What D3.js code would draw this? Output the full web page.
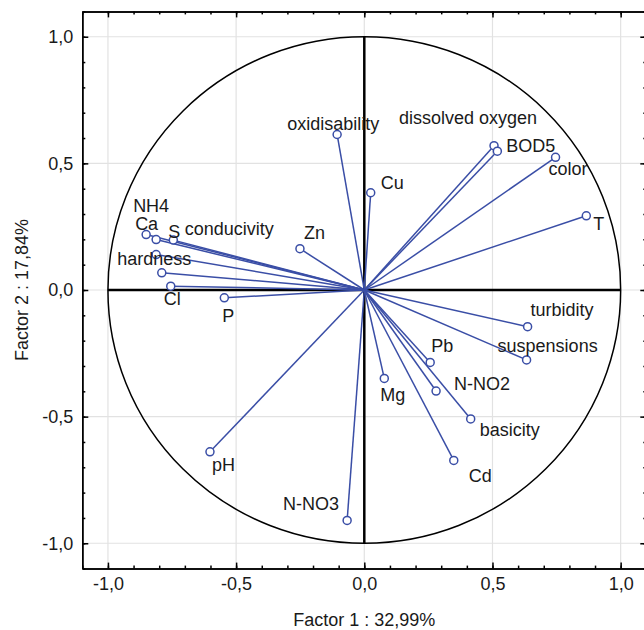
<!DOCTYPE html>
<html>
<head>
<meta charset="utf-8">
<script src="https://cdn.jsdelivr.net/npm/d3@7"></script>
<style>
  body { margin: 0; background: #fff; }
  svg text { font-family: "Liberation Sans", Arial, sans-serif; fill: #1a1a1a; }
</style>
</head>
<body>
<div id="chart"></div>
<script>
// variable names and their loadings on factor 1 / factor 2
var variables = ["oxidisability", "dissolved oxygen", "BOD5", "color", "T", "Cu", "Zn",
                 "NH4", "Ca", "S", "conducivity", "hardness", "Cl", "P",
                 "turbidity", "suspensions", "Pb", "N-NO2", "Mg", "basicity", "Cd", "pH", "N-NO3"];
var factor1 = [-0.106, 0.506, 0.519, 0.746, 0.866, 0.025, -0.251,
               -0.851, -0.812, -0.745, -0.790, -0.812, -0.755, -0.546,
               0.637, 0.633, 0.257, 0.280, 0.078, 0.415, 0.349, -0.602, -0.067];
var factor2 = [0.614, 0.570, 0.548, 0.524, 0.293, 0.384, 0.163,
               0.219, 0.199, 0.197, 0.068, 0.140, 0.015, -0.031,
               -0.145, -0.276, -0.286, -0.399, -0.349, -0.509, -0.673, -0.639, -0.910];
var majorTicks = [-1.0, -0.5, 0.0, 0.5, 1.0];
var xTitle = "Factor 1 : 32,99%";
var yTitle = "Factor 2 : 17,84%";

// label placement (pixel nudges from the point, text start / baseline)
var labelNudge = [[-50,-4],[-95,-22],[9,1],[-7,18],[7,14],[10,-4],[4,-10],
                  [-13,-23],[-21,-10],[-5,-2],[23,-38],[-39,10],[-7,19],[-2,24],
                  [3,-11],[-29,-8],[1,-10],[18,-1],[-4,23],[9,17],[15,22],[2,19],[-64,-10]];

var width = 644, height = 630;
var plotLeft = 82.3, plotRight = 646.3, plotTop = 11.4, plotBottom = 568.6;
var blue = "#3a4ea6";

var loc = d3.formatLocale({decimal: ",", thousands: ".", grouping: [3], currency: ["", ""], minus: "-"});
var fmt = loc.format(".1f");

var x = d3.scaleLinear().domain([-1.1, 1.1]).range([plotLeft, plotRight]);
var y = d3.scaleLinear().domain([-1.1, 1.1]).range([plotBottom, plotTop]);
var minorTicks = d3.range(-11, 12).map(function(d){ return d / 10; });

var svg = d3.select("#chart").append("svg")
    .attr("width", width).attr("height", height);

// grid
svg.append("g").selectAll("line.gx").data(majorTicks).enter().append("line")
    .attr("x1", function(d){ return x(d); }).attr("x2", function(d){ return x(d); })
    .attr("y1", plotTop).attr("y2", plotBottom)
    .style("stroke", "#e2e2e2").style("stroke-width", 1.2);
svg.append("g").selectAll("line.gy").data(majorTicks).enter().append("line")
    .attr("y1", function(d){ return y(d); }).attr("y2", function(d){ return y(d); })
    .attr("x1", plotLeft).attr("x2", plotRight)
    .style("stroke", "#e2e2e2").style("stroke-width", 1.2);

// unit circle
svg.append("ellipse")
    .attr("cx", x(0)).attr("cy", y(0))
    .attr("rx", x(1) - x(0)).attr("ry", y(0) - y(1))
    .style("fill", "none").style("stroke", "#000").style("stroke-width", 1.5);

// axis lines through origin
svg.append("line").attr("x1", x(-1)).attr("x2", x(1)).attr("y1", y(0)).attr("y2", y(0))
    .style("stroke", "#000").style("stroke-width", 2.5);
svg.append("line").attr("x1", x(0)).attr("x2", x(0)).attr("y1", y(1)).attr("y2", y(-1))
    .style("stroke", "#000").style("stroke-width", 2.5);

// vectors
var data = variables.map(function(name, i){
    return {name: name, f1: factor1[i], f2: factor2[i], nudge: labelNudge[i]};
});

svg.append("g").selectAll("line").data(data).enter().append("line")
    .attr("x1", x(0)).attr("y1", y(0))
    .attr("x2", function(d){ return x(d.f1); })
    .attr("y2", function(d){ return y(d.f2); })
    .style("stroke", blue).style("stroke-width", 1.5);

svg.append("g").selectAll("circle").data(data).enter().append("circle")
    .attr("cx", function(d){ return x(d.f1); })
    .attr("cy", function(d){ return y(d.f2); })
    .attr("r", 4)
    .style("fill", "#fff").style("stroke", blue).style("stroke-width", 1.5);

svg.append("g").selectAll("text").data(data).enter().append("text")
    .attr("x", function(d){ return x(d.f1) + d.nudge[0]; })
    .attr("y", function(d){ return y(d.f2) + d.nudge[1]; })
    .style("font-size", "18px")
    .text(function(d){ return d.name; });

// frame axes, ticks pointing inward
function styleAxis(g){
    g.select(".domain").style("stroke", "#000").style("stroke-width", 1.5);
    g.selectAll(".tick line").style("stroke", "#000").style("stroke-width", 1.5);
    g.selectAll("text").style("font-size", "18px").style("font-family", "Liberation Sans, Arial, sans-serif").attr("fill", "#1a1a1a");
}

svg.append("g").attr("transform", "translate(0," + plotBottom + ")")
    .call(d3.axisBottom(x).tickValues(minorTicks).tickSize(-3).tickFormat("").tickSizeOuter(0))
    .call(styleAxis);
svg.append("g").attr("transform", "translate(0," + plotBottom + ")")
    .call(d3.axisBottom(x).tickValues(majorTicks).tickSize(-6).tickPadding(9).tickFormat(fmt).tickSizeOuter(0))
    .call(styleAxis);
svg.append("g").attr("transform", "translate(0," + plotTop + ")")
    .call(d3.axisTop(x).tickValues(minorTicks).tickSize(-3).tickFormat("").tickSizeOuter(0))
    .call(styleAxis);
svg.append("g").attr("transform", "translate(0," + plotTop + ")")
    .call(d3.axisTop(x).tickValues(majorTicks).tickSize(-6).tickFormat("").tickSizeOuter(0))
    .call(styleAxis);
svg.append("g").attr("transform", "translate(" + plotLeft + ",0)")
    .call(d3.axisLeft(y).tickValues(minorTicks).tickSize(-3).tickFormat("").tickSizeOuter(0))
    .call(styleAxis);
svg.append("g").attr("transform", "translate(" + plotLeft + ",0)")
    .call(d3.axisLeft(y).tickValues(majorTicks).tickSize(-6).tickPadding(9).tickFormat(fmt).tickSizeOuter(0))
    .call(styleAxis);
svg.append("g").attr("transform", "translate(" + plotRight + ",0)")
    .call(d3.axisRight(y).tickValues(minorTicks).tickSize(-3).tickFormat("").tickSizeOuter(0))
    .call(styleAxis);
svg.append("g").attr("transform", "translate(" + plotRight + ",0)")
    .call(d3.axisRight(y).tickValues(majorTicks).tickSize(-6).tickFormat("").tickSizeOuter(0))
    .call(styleAxis);

// axis titles
svg.append("text")
    .attr("x", x(0)).attr("y", 626)
    .attr("text-anchor", "middle")
    .style("font-size", "18px")
    .text(xTitle);
svg.append("text")
    .attr("transform", "translate(28," + y(0) + ") rotate(-90)")
    .attr("text-anchor", "middle")
    .style("font-size", "18px")
    .text(yTitle);
</script>
</body>
</html>
